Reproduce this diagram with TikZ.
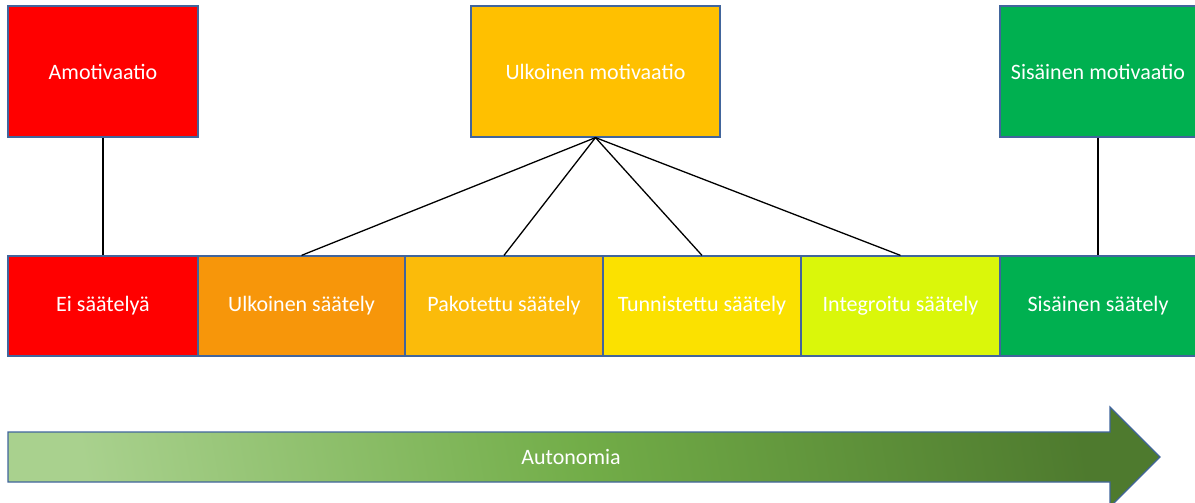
\documentclass[tikz,border=0pt]{standalone}
\usepackage{fontspec}
\setmainfont{Carlito}
\definecolor{bordc}{HTML}{41659C}
\definecolor{cred}{HTML}{FF0000}
\definecolor{corange}{HTML}{F7960A}
\definecolor{camber}{HTML}{FFC000}
\definecolor{camber2}{HTML}{FBBB0A}
\definecolor{cyellow}{HTML}{FBE100}
\definecolor{clime}{HTML}{DAF70A}
\definecolor{cgreen}{HTML}{00B050}
\definecolor{glight}{HTML}{A9D18E}
\definecolor{gmid}{HTML}{72AD48}
\definecolor{gdark}{HTML}{4E7A2E}
\tikzset{
  box/.style={draw=bordc, line width=1.2pt, inner sep=0pt, text=white,
    font=\fontsize{22}{26}\selectfont, minimum height=#1},
  conn/.style={draw=black, line width=1.3pt},
}
\begin{document}
\begin{tikzpicture}[x=1pt,y=-1pt]
\useasboundingbox (0,0) rectangle (1195,503);
% top row
\node[box=131pt, fill=cred, minimum width=190pt] (amo) at (103,71.5) {Amotivaatio};
\node[box=131pt, fill=camber, minimum width=249pt] (ulk) at (595.5,71.5) {Ulkoinen motivaatio};
\node[box=131pt, fill=cgreen, minimum width=196pt] (sis) at (1098,71.5) {Sisäinen motivaatio};
% bottom row
\node[box=100pt, fill=cred, minimum width=190pt] (b1) at (103,306) {Ei säätelyä};
\node[box=100pt, fill=corange, minimum width=207pt] (b2) at (301.5,306) {Ulkoinen säätely};
\node[box=100pt, fill=camber2, minimum width=198pt] (b3) at (504,306) {Pakotettu säätely};
\node[box=100pt, fill=cyellow, minimum width=198pt] (b4) at (702,306) {Tunnistettu säätely};
\node[box=100pt, fill=clime, minimum width=199pt] (b5) at (900.5,306) {Integroitu säätely};
\node[box=100pt, fill=cgreen, minimum width=196pt] (b6) at (1098,306) {Sisäinen säätely};
% connectors
\draw[conn] (amo.south) -- (b1.north);
\draw[conn] (ulk.south) -- (b2.north);
\draw[conn] (ulk.south) -- (b3.north);
\draw[conn] (ulk.south) -- (b4.north);
\draw[conn] (ulk.south) -- (b5.north);
\draw[conn] (sis.south) -- (b6.north);
% arrow
\begin{scope}
\clip (0,0) rectangle (1195,503);
\shade[left color=glight, right color=gdark, middle color=gmid, shading angle=100]
  (8,432) -- (1110,432) -- (1110,407) -- (1160,457) -- (1110,507) -- (1110,482) -- (8,482) -- cycle;
\draw[draw=bordc, line width=1.2pt]
  (8,432) -- (1110,432) -- (1110,407) -- (1160,457) -- (1110,507) -- (1110,482) -- (8,482) -- cycle;
\end{scope}
\node[text=white, font=\fontsize{22}{26}\selectfont] (auto) at (571,457) {Autonomia};
\end{tikzpicture}
\end{document}
